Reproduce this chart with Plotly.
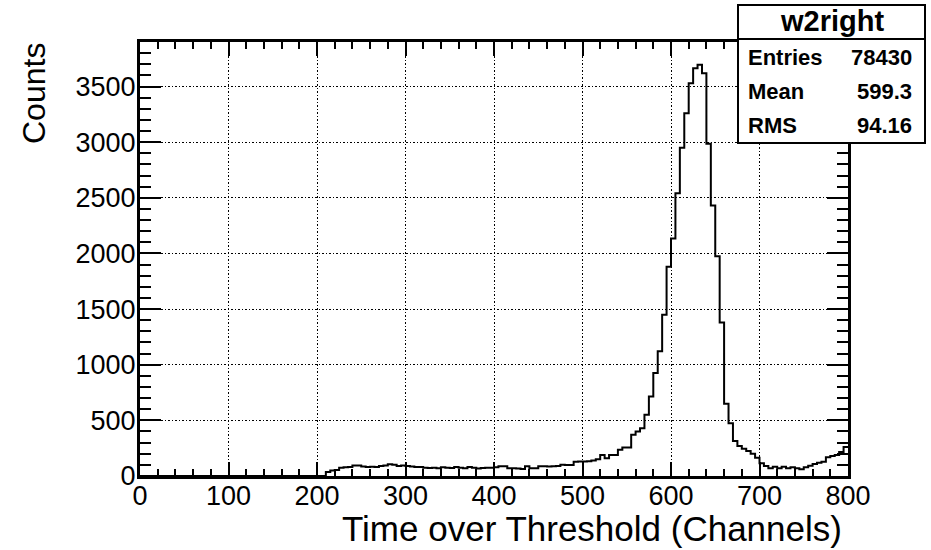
import plotly.graph_objects as go

# ---- data (5-channel bins, 0..800) ----
bin_width = 5
bin_starts = list(range(0, 800, bin_width))

counts_0_205 = [0] * 42
counts_210_395 = [35, 50, 55, 75, 78, 80, 95, 95, 85, 80, 82, 80, 90, 95, 105, 100, 90, 95, 90, 85,
                  80, 80, 75, 72, 75, 70, 78, 75, 72, 80, 75, 70, 80, 75, 68, 72, 75, 75]
counts_400_495 = [78, 88, 88, 70, 70, 68, 62, 88, 70, 70, 88, 88, 85, 88, 90, 100, 98, 98, 128, 130]
counts_500_595 = [130, 132, 140, 150, 188, 160, 188, 188, 235, 255, 255, 370, 400, 430, 550, 715, 925, 1120, 1450, 1880]
counts_600_695 = [2135, 2540, 2950, 3260, 3530, 3665, 3695, 3620, 2985, 2430, 1975, 1380, 650, 474, 315, 270, 245, 225, 200, 165]
counts_700_795 = [114, 90, 69, 84, 69, 84, 69, 78, 69, 60, 78, 93, 108, 120, 129, 168, 180, 189, 215, 260]

counts = counts_0_205 + counts_210_395 + counts_400_495 + counts_500_595 + counts_600_695 + counts_700_795

x_tick_vals = [0, 100, 200, 300, 400, 500, 600, 700, 800]
y_tick_vals = [0, 500, 1000, 1500, 2000, 2500, 3000, 3500]

stats_title = "w2right"
stats_labels = ["Entries", "Mean", "RMS"]
stats_values = ["78430", "599.3", "94.16"]

x_title = "Time over Threshold (Channels)"
y_title = "Counts"

# ---- figure ----
FONT = "Liberation Sans, Arial, Helvetica, sans-serif"
W, H = 931, 550
L, R, T, B = 140, 83, 42, 74
pw, ph = W - L - R, H - T - B


def px2paper_x(px):
    return (px - L) / pw


def px2paper_y(py):
    return (H - B - py) / ph


xs = bin_starts + [800]
ys = counts + [counts[-1]]

fig = go.Figure()
fig.add_trace(go.Scatter(x=xs, y=ys, mode="lines", line=dict(shape="hv", color="black", width=2),
                         showlegend=False, hoverinfo="skip"))

axis_common = dict(
    showline=True, linecolor="black", linewidth=3, mirror="allticks",
    ticks="inside", tickcolor="black", tickwidth=2,
    showgrid=True, gridcolor="black", gridwidth=1.3, griddash="1.5px,2px",
    zeroline=False,
    tickfont=dict(family=FONT, size=27, color="black"),
)

fig.update_xaxes(range=[0, 800], tickmode="array", tickvals=x_tick_vals, ticklen=14,
                 ticklabelstandoff=-6,
                 minor=dict(dtick=20, ticklen=7, tickwidth=2, tickcolor="black", ticks="inside", showgrid=False),
                 **axis_common)
fig.update_yaxes(range=[0, 3900], tickmode="array", tickvals=y_tick_vals, ticklen=21,
                 ticklabelstandoff=-4,
                 minor=dict(dtick=100, ticklen=11, tickwidth=2, tickcolor="black", ticks="inside", showgrid=False),
                 **axis_common)

annotations = [
    dict(text=x_title, xref="paper", yref="paper", x=px2paper_x(844), y=px2paper_y(528),
         xanchor="right", yanchor="middle", showarrow=False,
         font=dict(family=FONT, size=35, color="black")),
    dict(text=y_title, xref="paper", yref="paper", x=px2paper_x(34), y=px2paper_y(94),
         xanchor="center", yanchor="middle", textangle=-90, showarrow=False,
         font=dict(family=FONT, size=32, color="black")),
    dict(text="<b>%s</b>" % stats_title, xref="paper", yref="paper", x=px2paper_x(831.5), y=px2paper_y(21),
         xanchor="center", yanchor="middle", showarrow=False,
         font=dict(family=FONT, size=29, color="black")),
]
row_y = [57, 91.5, 125]
for lab, val, ry in zip(stats_labels, stats_values, row_y):
    annotations.append(dict(text="<b>%s</b>" % lab, xref="paper", yref="paper", x=px2paper_x(746), y=px2paper_y(ry),
                            xanchor="left", yanchor="middle", showarrow=False,
                            font=dict(family=FONT, size=22, color="black")))
    annotations.append(dict(text="<b>%s</b>" % val, xref="paper", yref="paper", x=px2paper_x(914), y=px2paper_y(ry),
                            xanchor="right", yanchor="middle", showarrow=False,
                            font=dict(family=FONT, size=22, color="black")))

shapes = [
    dict(type="rect", xref="paper", yref="paper",
         x0=px2paper_x(738), x1=px2paper_x(925), y0=px2paper_y(143), y1=px2paper_y(5),
         line=dict(color="black", width=2), fillcolor="white", layer="above"),
    dict(type="line", xref="paper", yref="paper",
         x0=px2paper_x(738), x1=px2paper_x(925), y0=px2paper_y(39), y1=px2paper_y(39),
         line=dict(color="black", width=2), layer="above"),
]

fig.update_layout(
    width=W, height=H,
    margin=dict(l=L, r=R, t=T, b=B, pad=0),
    paper_bgcolor="white", plot_bgcolor="white",
    annotations=annotations, shapes=shapes,
    showlegend=False,
    font=dict(family=FONT, color="black"),
)

fig.write_html("out.html")
